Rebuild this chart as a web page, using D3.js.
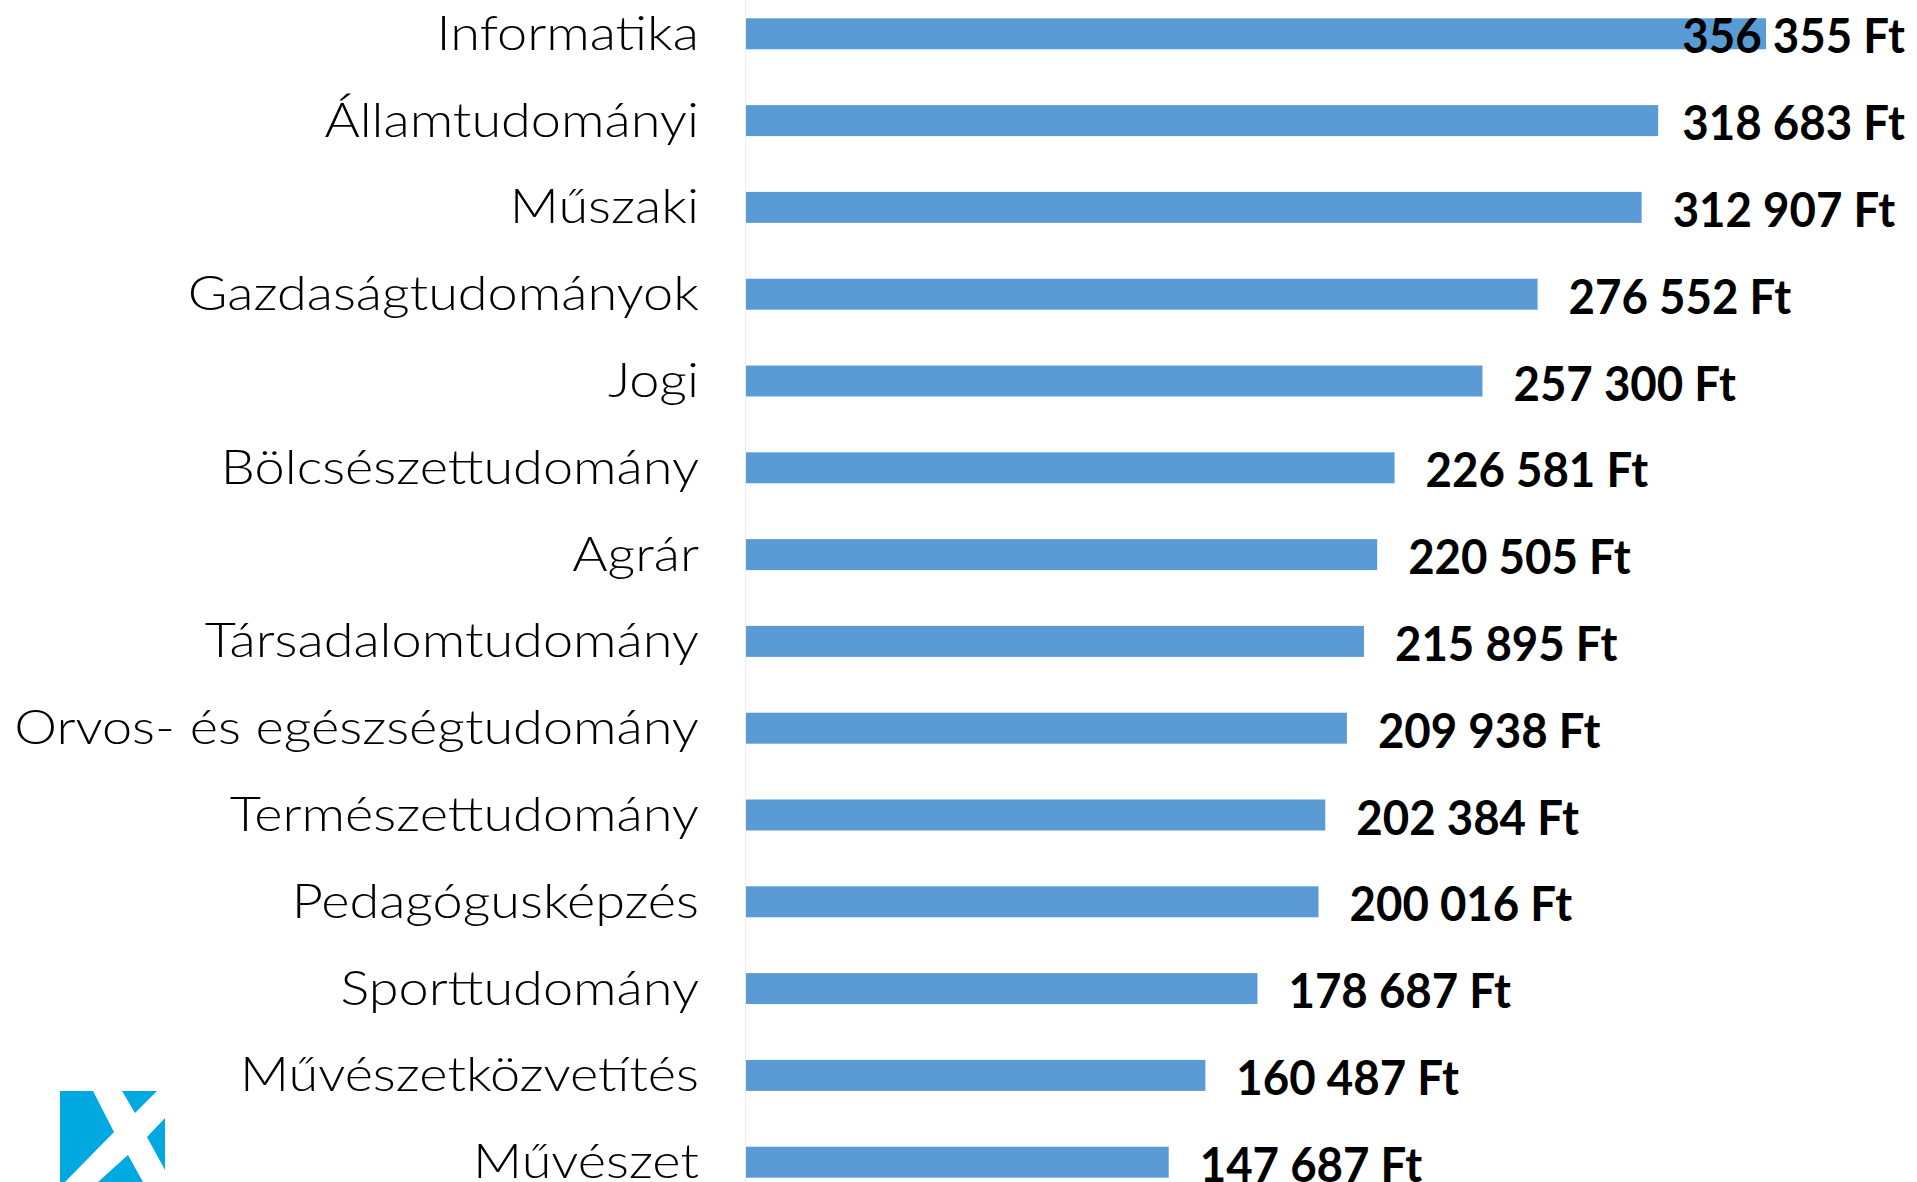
<!DOCTYPE html>
<html>
<head>
<meta charset="utf-8">
<script src="https://cdn.jsdelivr.net/npm/d3@7"></script>
<style>
    body { margin: 0; background: #fff; overflow: hidden; }
</style>
</head>
<body>
<div id="chart"></div>
<script>
var categories = ['Informatika', 'Államtudományi', 'Műszaki', 'Gazdaságtudományok', 'Jogi',
    'Bölcsészettudomány', 'Agrár', 'Társadalomtudomány', 'Orvos- és egészségtudomány',
    'Természettudomány', 'Pedagógusképzés', 'Sporttudomány', 'Művészetközvetítés', 'Művészet'];
var values = [356355, 318683, 312907, 276552, 257300, 226581, 220505, 215895, 209938,
    202384, 200016, 178687, 160487, 147687];

var width = 1917, height = 1182;
var fmt = function (v) {
    return d3.format(',')(v).replace(/,/g, ' ') + ' Ft';
};

var svg = d3.select('#chart').append('svg')
    .attr('width', width)
    .attr('height', height);

var x = d3.scaleLinear()
    .domain([0, d3.max(values)])
    .range([746, 1766]);

var y = d3.scaleBand()
    .domain(categories)
    .range([-9.6, 1205.6])
    .paddingInner(0.643)
    .paddingOuter(0.3215);

// faint category axis line
svg.append('line')
    .attr('x1', 745.5).attr('x2', 745.5)
    .attr('y1', 0).attr('y2', height)
    .attr('stroke', '#efefef')
    .attr('stroke-width', 1);

var rows = categories.map(function (c, i) { return {cat: c, val: values[i]}; });

svg.selectAll('rect.bar')
    .data(rows)
    .enter().append('rect')
    .attr('class', 'bar')
    .attr('x', x(0))
    .attr('y', function (d) { return y(d.cat); })
    .attr('width', function (d) { return x(d.val) - x(0); })
    .attr('height', y.bandwidth())
    .attr('fill', '#5b9bd5');

var cats = svg.selectAll('text.cat')
    .data(rows)
    .enter().append('text')
    .attr('class', 'cat')
    .attr('x', 699)
    .attr('y', function (d) { return y(d.cat) + y.bandwidth() / 2 + 16; })
    .attr('text-anchor', 'end')
    .attr('font-family', 'Lato, sans-serif')
    .attr('font-weight', 300)
    .attr('font-size', '47px')
    .attr('fill', '#000')
    .text(function (d) { return d.cat; });

// the original face is wider, stretch a bit
cats.each(function () {
    var w = this.getComputedTextLength();
    d3.select(this)
        .attr('textLength', w * 1.15)
        .attr('lengthAdjust', 'spacingAndGlyphs');
});

var labels = svg.selectAll('text.val')
    .data(rows)
    .enter().append('text')
    .attr('class', 'val')
    .attr('y', function (d) { return y(d.cat) + y.bandwidth() / 2 + 19.5; })
    .attr('font-family', 'Lato, sans-serif')
    .attr('font-weight', 700)
    .attr('font-size', '48px')
    .attr('fill', '#000')
    .text(function (d) { return fmt(d.val); });

// put labels just past the bar end, keep them inside the picture
labels.each(function (d) {
    var w = this.getComputedTextLength() * 0.95;
    var lx = Math.min(x(d.val) + 31, 1905 - w);
    d3.select(this)
        .attr('x', lx)
        .attr('textLength', w)
        .attr('lengthAdjust', 'spacingAndGlyphs');
});

// logo in the bottom-left corner
var logo = svg.append('g');
logo.append('rect')
    .attr('x', 60).attr('y', 1091)
    .attr('width', 105).attr('height', 91)
    .attr('fill', '#00a9e0');
var cuts = [
    [[93, 1091], [122, 1091], [135, 1113], [157, 1091], [165, 1091], [165, 1118], [147, 1137],
     [165, 1170], [165, 1182], [143, 1182], [128, 1155], [98, 1182], [65, 1182], [114, 1132]]
];
logo.selectAll('polygon')
    .data(cuts)
    .enter().append('polygon')
    .attr('points', function (d) { return d.map(function (p) { return p.join(','); }).join(' '); })
    .attr('fill', '#fff');
</script>
</body>
</html>
